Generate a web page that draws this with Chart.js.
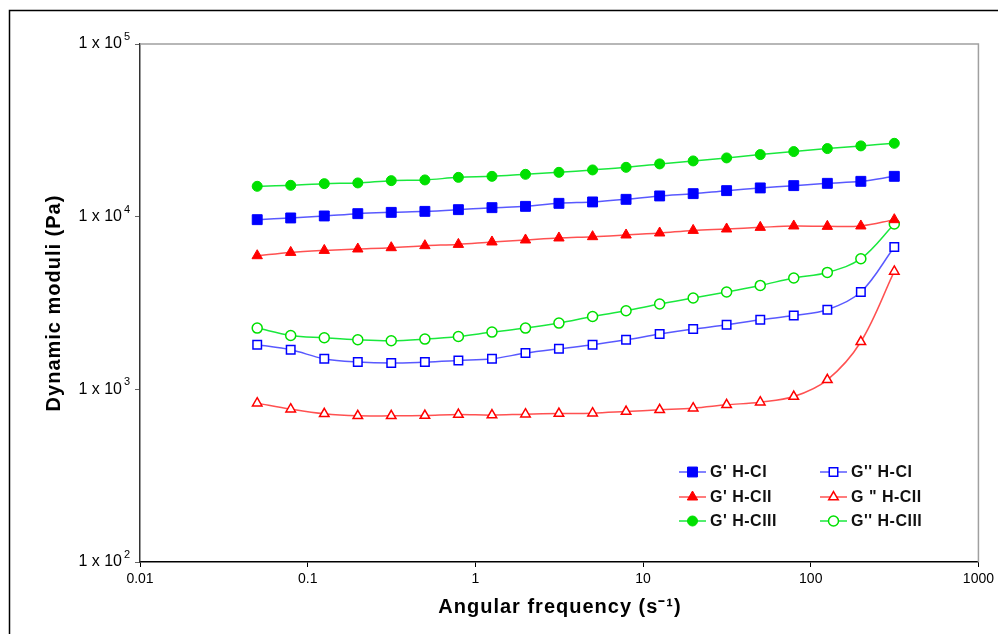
<!DOCTYPE html>
<html>
<head>
<meta charset="utf-8">
<script src="https://cdn.jsdelivr.net/npm/chart.js@4.4.1/dist/chart.umd.min.js"></script>
<style>
  html, body { margin: 0; padding: 0; background: #fff; }
  #wrap { width: 998px; height: 634px; }
</style>
</head>
<body>
<div id="wrap"><canvas id="chart" width="998" height="634"></canvas></div>
<script>
// angular frequency (s-1)
const freq = [0.05, 0.0792, 0.1256, 0.199, 0.315, 0.5, 0.792, 1.256, 1.99, 3.15,
              5, 7.92, 12.56, 19.9, 31.5, 50, 79.2, 125.6, 199, 315];

// storage / loss moduli (Pa)
const gp_HCI = [9608, 9829, 10094, 10408, 10590, 10733, 10980, 11276, 11475, 11945,
                12170, 12600, 13183, 13594, 14150, 14670, 15127, 15596, 16020, 17125];
const gpp_HCI = [1811, 1694, 1503, 1438, 1419, 1438, 1469, 1503, 1621, 1717,
                 1811, 1936, 2089, 2234, 2365, 2528, 2678, 2890, 3660, 6674];
const gp_HCII = [5941, 6209, 6377, 6498, 6612, 6791, 6910, 7135, 7328, 7526,
                 7657, 7832, 8043, 8328, 8485, 8670, 8833, 8786, 8833, 9608];
const gpp_HCII = [832, 768, 721, 702, 702, 705, 714, 709, 718, 724,
                  728, 744, 761, 778, 813, 843, 908, 1135, 1886, 4819];
const gp_HCIII = [14990, 15190, 15530, 15680, 16170, 16320, 16890, 17120, 17590, 18060,
                  18650, 19310, 20210, 21030, 21890, 22880, 23820, 24790, 25700, 26600];
const gpp_HCIII = [2263, 2051, 1989, 1936, 1911, 1954, 2024, 2146, 2263, 2420,
                   2642, 2852, 3118, 3379, 3660, 3997, 4412, 4754, 5708, 9073];

const xTicks = [0.01, 0.1, 1, 10, 100, 1000];
const yTicks = [100, 1000, 10000, 100000];
const yTickBase = '1 x 10';
const yTickExp = ['2', '3', '4', '5'];

const pts = (vals) => freq.map((f, i) => ({ x: f, y: vals[i] }));

function series(label, vals, color, lineColor, style, filled, r) {
  return {
    label: label,
    data: pts(vals),
    borderColor: lineColor,
    borderWidth: 1.5,
    pointStyle: style,
    pointRadius: r,
    pointBorderColor: color,
    pointBackgroundColor: filled ? color : '#fff',
    pointBorderWidth: filled ? 1 : 1.5,
    tension: 0.35,
    fill: false
  };
}

const datasets = [
  series("G' H-CI", gp_HCI, '#0000ff', 'rgba(60,60,255,0.85)', 'rect', true, 7),
  series("G'' H-CI", gpp_HCI, '#0000ff', 'rgba(60,60,255,0.85)', 'rect', false, 6),
  series("G' H-CII", gp_HCII, '#ff0000', 'rgba(255,50,50,0.85)', 'triangle', true, 6),
  series('G " H-CII', gpp_HCII, '#ff0000', 'rgba(255,50,50,0.85)', 'triangle', false, 5.5),
  series("G' H-CIII", gp_HCIII, '#00e000', 'rgba(0,230,40,0.9)', 'circle', true, 5),
  series("G'' H-CIII", gpp_HCIII, '#00e000', 'rgba(0,230,40,0.9)', 'circle', false, 5)
];

// frame, axis titles, y exponents and the 2-column legend inside the plot
const decor = {
  id: 'decor',
  beforeDraw(chart) {
    const ctx = chart.ctx;
    ctx.save();
    ctx.fillStyle = '#fff';
    ctx.fillRect(0, 0, chart.width, chart.height);
    ctx.strokeStyle = '#000';
    ctx.lineWidth = 1.5;
    ctx.beginPath();
    ctx.moveTo(9.5, chart.height);
    ctx.lineTo(9.5, 10.5);
    ctx.lineTo(chart.width, 10.5);
    ctx.stroke();
    ctx.restore();
  },
  afterDraw(chart) {
    const ctx = chart.ctx;
    const a = chart.chartArea;
    ctx.save();
    ctx.strokeStyle = '#a0a0a0';
    ctx.lineWidth = 1.5;
    ctx.beginPath();
    ctx.moveTo(a.left, a.top);
    ctx.lineTo(a.right, a.top);
    ctx.lineTo(a.right, a.bottom);
    ctx.stroke();

    // exponents of the y tick labels
    const ys = chart.scales.y;
    ctx.fillStyle = '#000';
    ctx.font = '11px "Liberation Sans", Arial, sans-serif';
    ctx.textAlign = 'left';
    ctx.textBaseline = 'alphabetic';
    yTicks.forEach((v, i) => {
      ctx.fillText(yTickExp[i], 124, ys.getPixelForValue(v) - 4);
    });

    ctx.font = 'bold 20px "Liberation Sans", Arial, sans-serif';
    ctx.letterSpacing = '1px';
    ctx.textAlign = 'center';
    ctx.textBaseline = 'middle';
    ctx.fillText('Angular frequency (s\u207B\u00B9)', 560, 607);
    ctx.translate(54, 303);
    ctx.rotate(-Math.PI / 2);
    ctx.fillText('Dynamic moduli (Pa)', 0, 0);
    ctx.restore();

    // legend
    const cols = [679, 820];
    const rows = [472, 497, 521];
    ctx.save();
    ctx.font = 'bold 16px "Liberation Sans", Arial, sans-serif';
    ctx.letterSpacing = '0.5px';
    ctx.textBaseline = 'middle';
    chart.data.datasets.forEach((ds, i) => {
      const x = cols[i % 2];
      const y = rows[Math.floor(i / 2)];
      ctx.strokeStyle = ds.borderColor;
      ctx.lineWidth = 1.5;
      ctx.beginPath();
      ctx.moveTo(x, y);
      ctx.lineTo(x + 27, y);
      ctx.stroke();
      ctx.lineWidth = ds.pointBorderWidth;
      ctx.strokeStyle = ds.pointBorderColor;
      ctx.fillStyle = ds.pointBackgroundColor;
      Chart.helpers.drawPoint(ctx, { pointStyle: ds.pointStyle, radius: ds.pointRadius, borderWidth: ds.pointBorderWidth }, x + 13.5, y);
      ctx.fillStyle = '#111';
      ctx.fillText(ds.label, x + 31, y + 1);
    });
    ctx.restore();
  }
};

const xTickFont = { family: '"Liberation Sans Narrow", "Liberation Sans", Arial, sans-serif', size: 14 };
const yTickFont = { family: '"Liberation Sans", Arial, sans-serif', size: 16 };

new Chart(document.getElementById('chart'), {
  type: 'line',
  data: { datasets: datasets },
  options: {
    responsive: false,
    animation: false,
    layout: { padding: { top: 44, right: 18, left: 0, bottom: 0 } },
    plugins: { legend: { display: false }, tooltip: { enabled: false } },
    scales: {
      x: {
        type: 'logarithmic',
        min: 0.01,
        max: 1000,
        afterBuildTicks: (s) => { s.ticks = xTicks.map(v => ({ value: v })); },
        afterFit: (s) => { s.height = 72; },
        ticks: {
          color: '#000',
          font: xTickFont,
          padding: 4,
          maxRotation: 0,
          autoSkip: false,
          callback: (v) => String(v)
        },
        grid: { drawOnChartArea: false, drawTicks: true, tickLength: 5, color: '#000' },
        border: { color: '#000', width: 1.5 }
      },
      y: {
        type: 'logarithmic',
        min: 100,
        max: 100000,
        afterBuildTicks: (s) => { s.ticks = yTicks.map(v => ({ value: v })); },
        afterFit: (s) => { s.width = 140; },
        ticks: {
          color: '#000',
          font: yTickFont,
          padding: 13,
          autoSkip: false,
          callback: () => yTickBase
        },
        grid: { drawOnChartArea: false, drawTicks: true, tickLength: 5, color: '#666' },
        border: { color: '#333', width: 1.5 }
      }
    }
  },
  plugins: [decor]
});
</script>
</body>
</html>
